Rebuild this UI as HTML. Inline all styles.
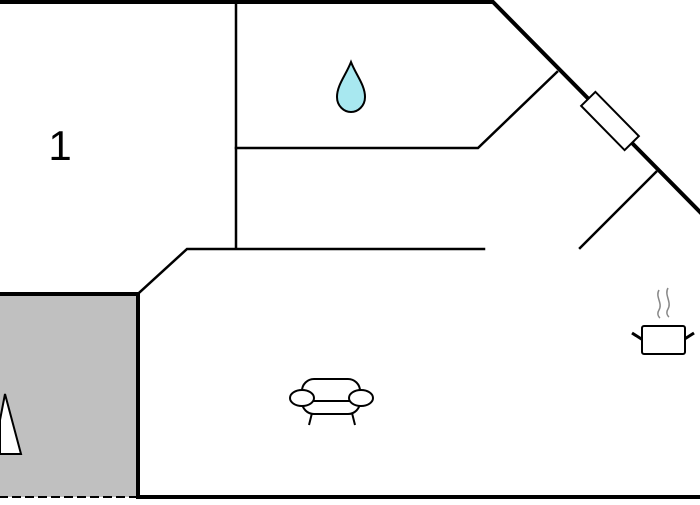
<!DOCTYPE html>
<html><head><style>body{margin:0;background:#fff}</style></head><body>
<svg width="700" height="500" viewBox="0 0 700 500" xmlns="http://www.w3.org/2000/svg">
<rect x="0" y="295" width="137" height="202" fill="#c0c0c0"/>
<polygon points="5,394 21,454 0,454 0,420" fill="#fff" stroke="#000" stroke-width="2"/>
<g stroke="#000" fill="none" stroke-linecap="square">
<polyline points="0,2 493,2 700,212" stroke-width="4"/>
<polyline points="0,294 138,294 138,497 700,497" stroke-width="4"/>
<line x1="0" y1="497" x2="136" y2="497" stroke-width="2" stroke-dasharray="7,6"/>
<g stroke-width="2.5">
<line x1="236" y1="2" x2="236" y2="248"/>
<polyline points="236,148 478,148 557,72"/>
<polyline points="484,249 187,249 140,292"/>
<line x1="580" y1="248" x2="656" y2="172"/>
</g>
</g>
<g transform="translate(610,121) rotate(45.5)">
<rect x="-31" y="-10" width="62" height="20" fill="#fff" stroke="#000" stroke-width="2"/>
</g>
<text x="60" y="160" font-family="Liberation Sans, sans-serif" font-size="42" text-anchor="middle">1</text>
<path d="M351,62 C346,75 337,85 337,97 C337,106 344,112 351,112 C358,112 365,106 365,97 C365,85 356,75 351,62 Z" fill="#a8e8f0" stroke="#000" stroke-width="2"/>
<g stroke="#000" stroke-width="2" fill="#fff">
<rect x="302" y="379" width="58" height="35" rx="12"/>
<line x1="312" y1="413" x2="309" y2="425"/>
<line x1="352" y1="413" x2="355" y2="425"/>
<line x1="308" y1="401" x2="354" y2="401"/>
<ellipse cx="302" cy="398" rx="12" ry="8"/>
<ellipse cx="361" cy="398" rx="12" ry="8"/>
</g>
<g stroke="#000" stroke-width="2" fill="#fff">
<line x1="632" y1="333" x2="643" y2="340" stroke-width="3"/>
<line x1="694" y1="333" x2="683" y2="340" stroke-width="3"/>
<rect x="642" y="326" width="43" height="28" rx="2"/>
</g>
<g stroke="#888" stroke-width="1.5" fill="none">
<path d="M659,290 C655,297 663,303 659,310 C656,315 660,318 660,318"/>
<path d="M668,288 C664,295 672,302 668,309 C665,314 669,317 669,317"/>
</g>
</svg>
</body></html>
